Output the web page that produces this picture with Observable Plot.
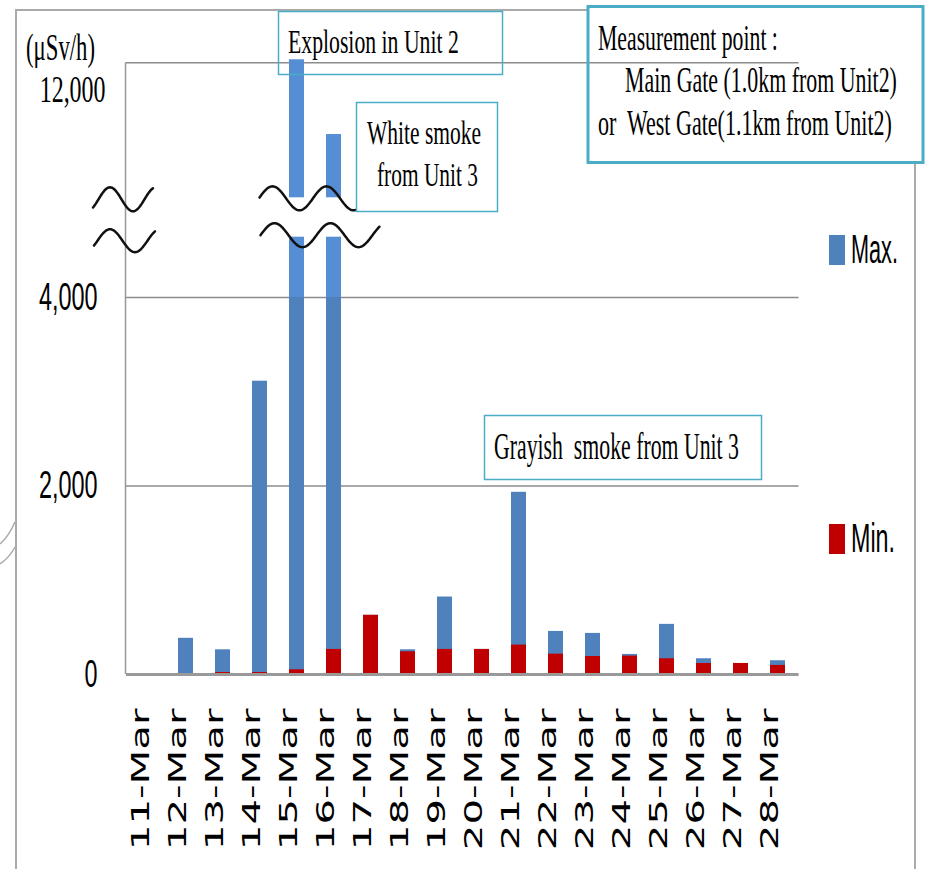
<!DOCTYPE html>
<html><head><meta charset="utf-8">
<script src="https://cdn.jsdelivr.net/npm/d3@7"></script>
<script src="https://cdn.jsdelivr.net/npm/@observablehq/plot@0.6"></script>
<style>
body{margin:0;background:#fff}
#chart{width:927px;height:869px;position:relative}
text{white-space:pre}
</style>
</head><body><div id="chart"></div>
<script>
// ---- data ----
const dates = ["11-Mar","12-Mar","13-Mar","14-Mar","15-Mar","16-Mar","17-Mar","18-Mar","19-Mar",
  "20-Mar","21-Mar","22-Mar","23-Mar","24-Mar","25-Mar","26-Mar","27-Mar","28-Mar"];
const maxValues = [0, 384, 262, 3112, 12032, 11239, 628, 262, 822, 266, 1933, 457, 436, 213, 532, 167, 117, 146];
const minValues = [0, 0, 21, 21, 50, 266, 628, 241, 266, 266, 312, 216, 191, 195, 167, 117, 117, 96];
const yTicks = [0, 2000, 4000];
const yTopTicks = [12000];
const unitLabel = "(μSv/h)";
const seriesNames = ["Max.", "Min."];
const seriesColors = ["#4F81BD", "#C00000"];
const upperBlue = "#558ED5";
// axis break (values hidden between these two)
const breakLow = 4640, breakHigh = 10568;

const rows = dates.map((d, i) => ({date: d, max: maxValues[i], min: minValues[i]}));
const fmt = d3.format(",");

const plot = Plot.plot({
  width: 927, height: 869,
  marginLeft: 126, marginRight: 128.4, marginTop: 10, marginBottom: 195,
  style: {background: "transparent", overflow: "visible"},
  x: {type: "band", domain: dates, paddingInner: 0.607, paddingOuter: 0.293, axis: null},
  y: {type: "linear", domain: [0, 4000, breakLow, breakHigh, 12000],
      range: [674, 297, 236.7, 197.3, 62.3], axis: null},
  marks: [
    Plot.ruleY([2000, 4000, 12000], {stroke: "#8c8c8c", strokeWidth: 1.5}),
    Plot.barY(rows, {x: "date", y1: 0, y2: d => Math.min(d.max, 4000), fill: seriesColors[0]}),
    Plot.barY(rows.filter(d => d.max > 4000), {x: "date", y1: 4000, y2: d => Math.min(d.max, breakLow), fill: upperBlue}),
    Plot.barY(rows.filter(d => d.max > breakHigh), {x: "date", y1: breakHigh, y2: "max", fill: upperBlue}),
    Plot.barY(rows.filter(d => d.min > 0), {x: "date", y1: 0, y2: "min", fill: seriesColors[1]}),
    Plot.ruleY([0], {stroke: "#999", strokeWidth: 3}),
    Plot.text(yTicks, {y: d => d, text: d => fmt(d), frameAnchor: "left", textAnchor: "end", dx: -29,
      fontSize: 39, fontFamily: "Liberation Sans", fill: "#000"}),
    Plot.text(yTopTicks, {y: d => d, text: d => fmt(d), frameAnchor: "left", textAnchor: "end", dx: -21, dy: 27,
      fontSize: 38, fontFamily: "Liberation Serif", fill: "#000"}),
    Plot.text(dates, {x: d => d, frameAnchor: "bottom", rotate: -90, textAnchor: "end", dy: 34,
      fontSize: 25, fontFamily: "DejaVu Sans", fill: "#000"})
  ]
});
document.getElementById("chart").appendChild(plot);

const svg = d3.select(plot);
const xs = plot.scale("x"), ys = plot.scale("y");
const bw = xs.bandwidth;
const L = 126;

// condense / stretch tick labels along their direction
const topLabels = yTopTicks.map(fmt), lowLabels = yTicks.map(fmt);
svg.selectAll("text").each(function() {
  const s = this.textContent;
  let f = null;
  if (dates.includes(s)) f = 1.61;
  else if (topLabels.includes(s)) f = 0.63;
  else if (lowLabels.includes(s)) f = 0.6;
  if (f == null) return;
  const n = this.getComputedTextLength();
  this.setAttribute("textLength", (n * f).toFixed(1));
  this.setAttribute("lengthAdjust", "spacingAndGlyphs");
});

const deco = svg.append("g").attr("text-anchor", "start");
// outer frame pieces
deco.append("path").attr("d", "M16,869V10H587 M915,163V869").attr("fill", "none").attr("stroke", "#aaa").attr("stroke-width", 2);
// stray marks at left edge
deco.append("path").attr("d", "M0,544 Q9,536 15,522 M0,564 Q10,557 15,547").attr("fill", "none").attr("stroke", "#aaa").attr("stroke-width", 1.5);
// vertical axis line
deco.append("line").attr("x1", L - 0.5).attr("x2", L - 0.5).attr("y1", ys.apply(12000)).attr("y2", ys.apply(0))
  .attr("stroke", "#999").attr("stroke-width", 1.5);

function wave(x0, x1, xp, P, yc, A) {
  const pts = d3.range(x0, x1 + 0.5, 1).map(x => [x, yc - A * Math.cos(2 * Math.PI * (x - xp) / P)]);
  deco.append("path").attr("d", d3.line()(pts)).attr("fill", "none").attr("stroke", "#111")
    .attr("stroke-width", 2.5).attr("stroke-linecap", "round");
}
const c15 = xs.apply("15-Mar") + bw / 2;
const yHi = ys.apply(breakHigh), yLo = ys.apply(breakLow);
wave(L - 33, L + 27, L - 16, 46, yHi + 2, 12);
wave(L - 32, L + 29, L - 16, 50, yLo + 4, 11.5);
wave(c15 - 37, c15 + 64, c15 - 24, 54, yHi + 1, 12);
wave(c15 - 36, c15 + 83, c15 - 22, 56, yLo - 1.5, 12);

// annotations
const teal = "#4BACC6";
function box(x, y, w, h, sw, fill) {
  deco.append("rect").attr("x", x).attr("y", y).attr("width", w).attr("height", h)
    .attr("fill", fill || "none").attr("stroke", teal).attr("stroke-width", sw);
}
// text compressed horizontally to a given width (transform keeps the real box)
function label(x, y, s, size, family, width) {
  const t = deco.append("text").attr("x", 0).attr("y", 0).attr("font-size", size)
    .attr("font-family", family).attr("fill", "#000").attr("text-anchor", "start").text(s);
  const n = t.node().getComputedTextLength();
  const sx = n > 0 ? width / n : 1;
  t.attr("transform", `translate(${x},${y}) scale(${sx.toFixed(4)},1)`);
}
const serif = "Liberation Serif", sans = "Liberation Sans";
label(26, 60, unitLabel, 38, serif, 69);

box(278.5, 11.5, 224, 63, 1.5);
label(288, 53, "Explosion in Unit 2", 34, serif, 171);

box(356.5, 102.5, 141, 109, 1.5, "#fff");
label(367, 144, "White smoke", 34, serif, 114);
label(377, 186, "from Unit 3", 34, serif, 101);

box(588, 6.5, 335, 156, 3);
label(598, 50, "Measurement point :", 35, serif, 180);
label(625, 92, "Main Gate (1.0km from Unit2)", 35, serif, 272);
label(598, 135, "or  West Gate(1.1km from Unit2)", 35, serif, 294);

box(484.5, 415.5, 277, 64, 1.5);
label(494, 459, "Grayish  smoke from Unit 3", 38, serif, 245);

// legend
deco.append("rect").attr("x", 829).attr("y", 235).attr("width", 16).attr("height", 30).attr("fill", seriesColors[0]);
label(851, 263, seriesNames[0], 40, sans, 47);
deco.append("rect").attr("x", 829).attr("y", 524).attr("width", 16).attr("height", 30).attr("fill", seriesColors[1]);
label(851, 552, seriesNames[1], 40, sans, 44);
</script>
</body></html>
